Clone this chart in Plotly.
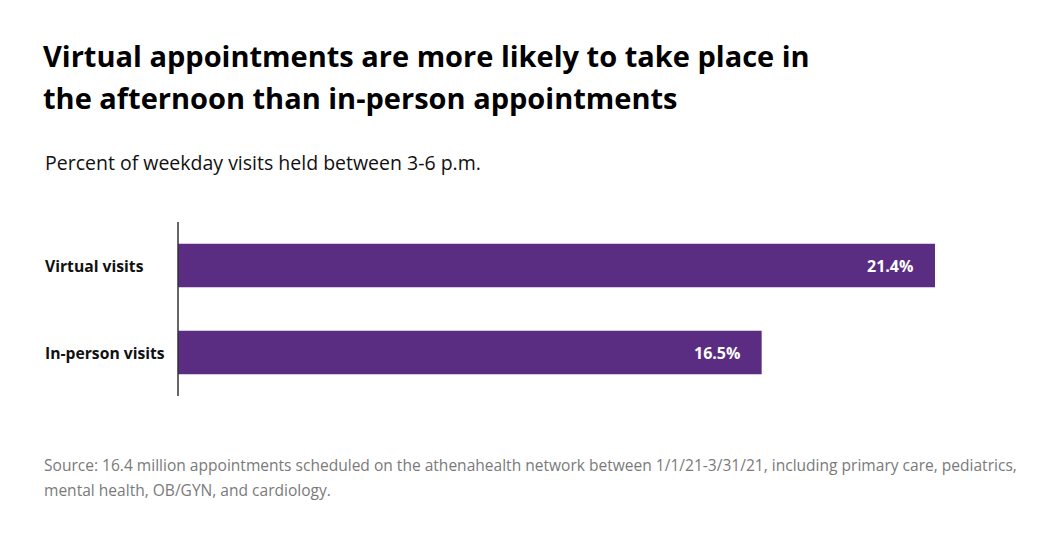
import plotly.graph_objects as go

categories = ["Virtual visits", "In-person visits"]
values = [21.4, 16.5]
value_labels = ["21.4%", "16.5%"]

W, H = 1060, 545
OFF = 8  # page body offset
L, R, T, B = 178 - OFF, 1060 - (935 - OFF), 222 - OFF, 545 - (396 - OFF)
PW = W - L - R
PH = H - T - B

def px_x(px):
    return (px - OFF - L) / PW

def px_y(py):
    return 1 - (py - OFF - T) / PH

BAR = "#5a2d82"
FONT = "Open Sans"

fig = go.Figure(go.Bar(
    x=values, y=categories, orientation="h",
    marker=dict(color=BAR, line=dict(width=0)),
    width=0.5, hoverinfo="skip",
))

ann = []
for c, v, t in zip(categories, values, value_labels):
    ann.append(dict(x=v, y=c, xref="x", yref="y", text=t, showarrow=False,
                    xanchor="right", xshift=-20,
                    font=dict(family=FONT, size=16, color="white", weight="bold")))
    ann.append(dict(x=px_x(43), y=c, xref="paper", yref="y", text=c, showarrow=False,
                    xanchor="left",
                    font=dict(family=FONT, size=15.7, color="#111111", weight="bold")))

title_lines = ["Virtual appointments are more likely to take place in",
               "the afternoon than in-person appointments"]
for i, tl in enumerate(title_lines):
    ann.append(dict(x=px_x(41), y=px_y(55 + 42.5 * i), xref="paper", yref="paper", text=tl,
                    showarrow=False, xanchor="left", yanchor="middle",
                    font=dict(family=FONT, size=29, color="#000000", weight="bold")))

ann.append(dict(x=px_x(43), y=px_y(162), xref="paper", yref="paper",
                text="Percent of weekday visits held between 3-6 p.m.",
                showarrow=False, xanchor="left", yanchor="middle",
                font=dict(family=FONT, size=19.5, color="#111111")))

src = ["Source: 16.4 million appointments scheduled on the athenahealth network between 1/1/21-3/31/21, including primary care, pediatrics,",
       "mental health, OB/GYN, and cardiology."]
for i, s in enumerate(src):
    ann.append(dict(x=px_x(42), y=px_y(465 + 25 * i), xref="paper", yref="paper", text=s,
                    showarrow=False, xanchor="left", yanchor="middle",
                    font=dict(family=FONT, size=15.55, color="#7a7a7a")))

fig.update_layout(
    width=W, height=H,
    margin=dict(l=L, r=R, t=T, b=B, pad=0),
    paper_bgcolor="white", plot_bgcolor="white",
    showlegend=False,
    annotations=ann,
    xaxis=dict(range=[0, 21.4], visible=False, fixedrange=True),
    yaxis=dict(categoryorder="array", categoryarray=categories[::-1],
               range=[-0.5, 1.5], showticklabels=False, showgrid=False,
               zeroline=False, showline=False, ticks="", fixedrange=True),
    shapes=[dict(type="line", xref="paper", yref="paper", x0=0, x1=0, y0=0, y1=1,
                 line=dict(color="#333333", width=1.5))],
)

fig.write_html("out.html", config={"displayModeBar": False})
